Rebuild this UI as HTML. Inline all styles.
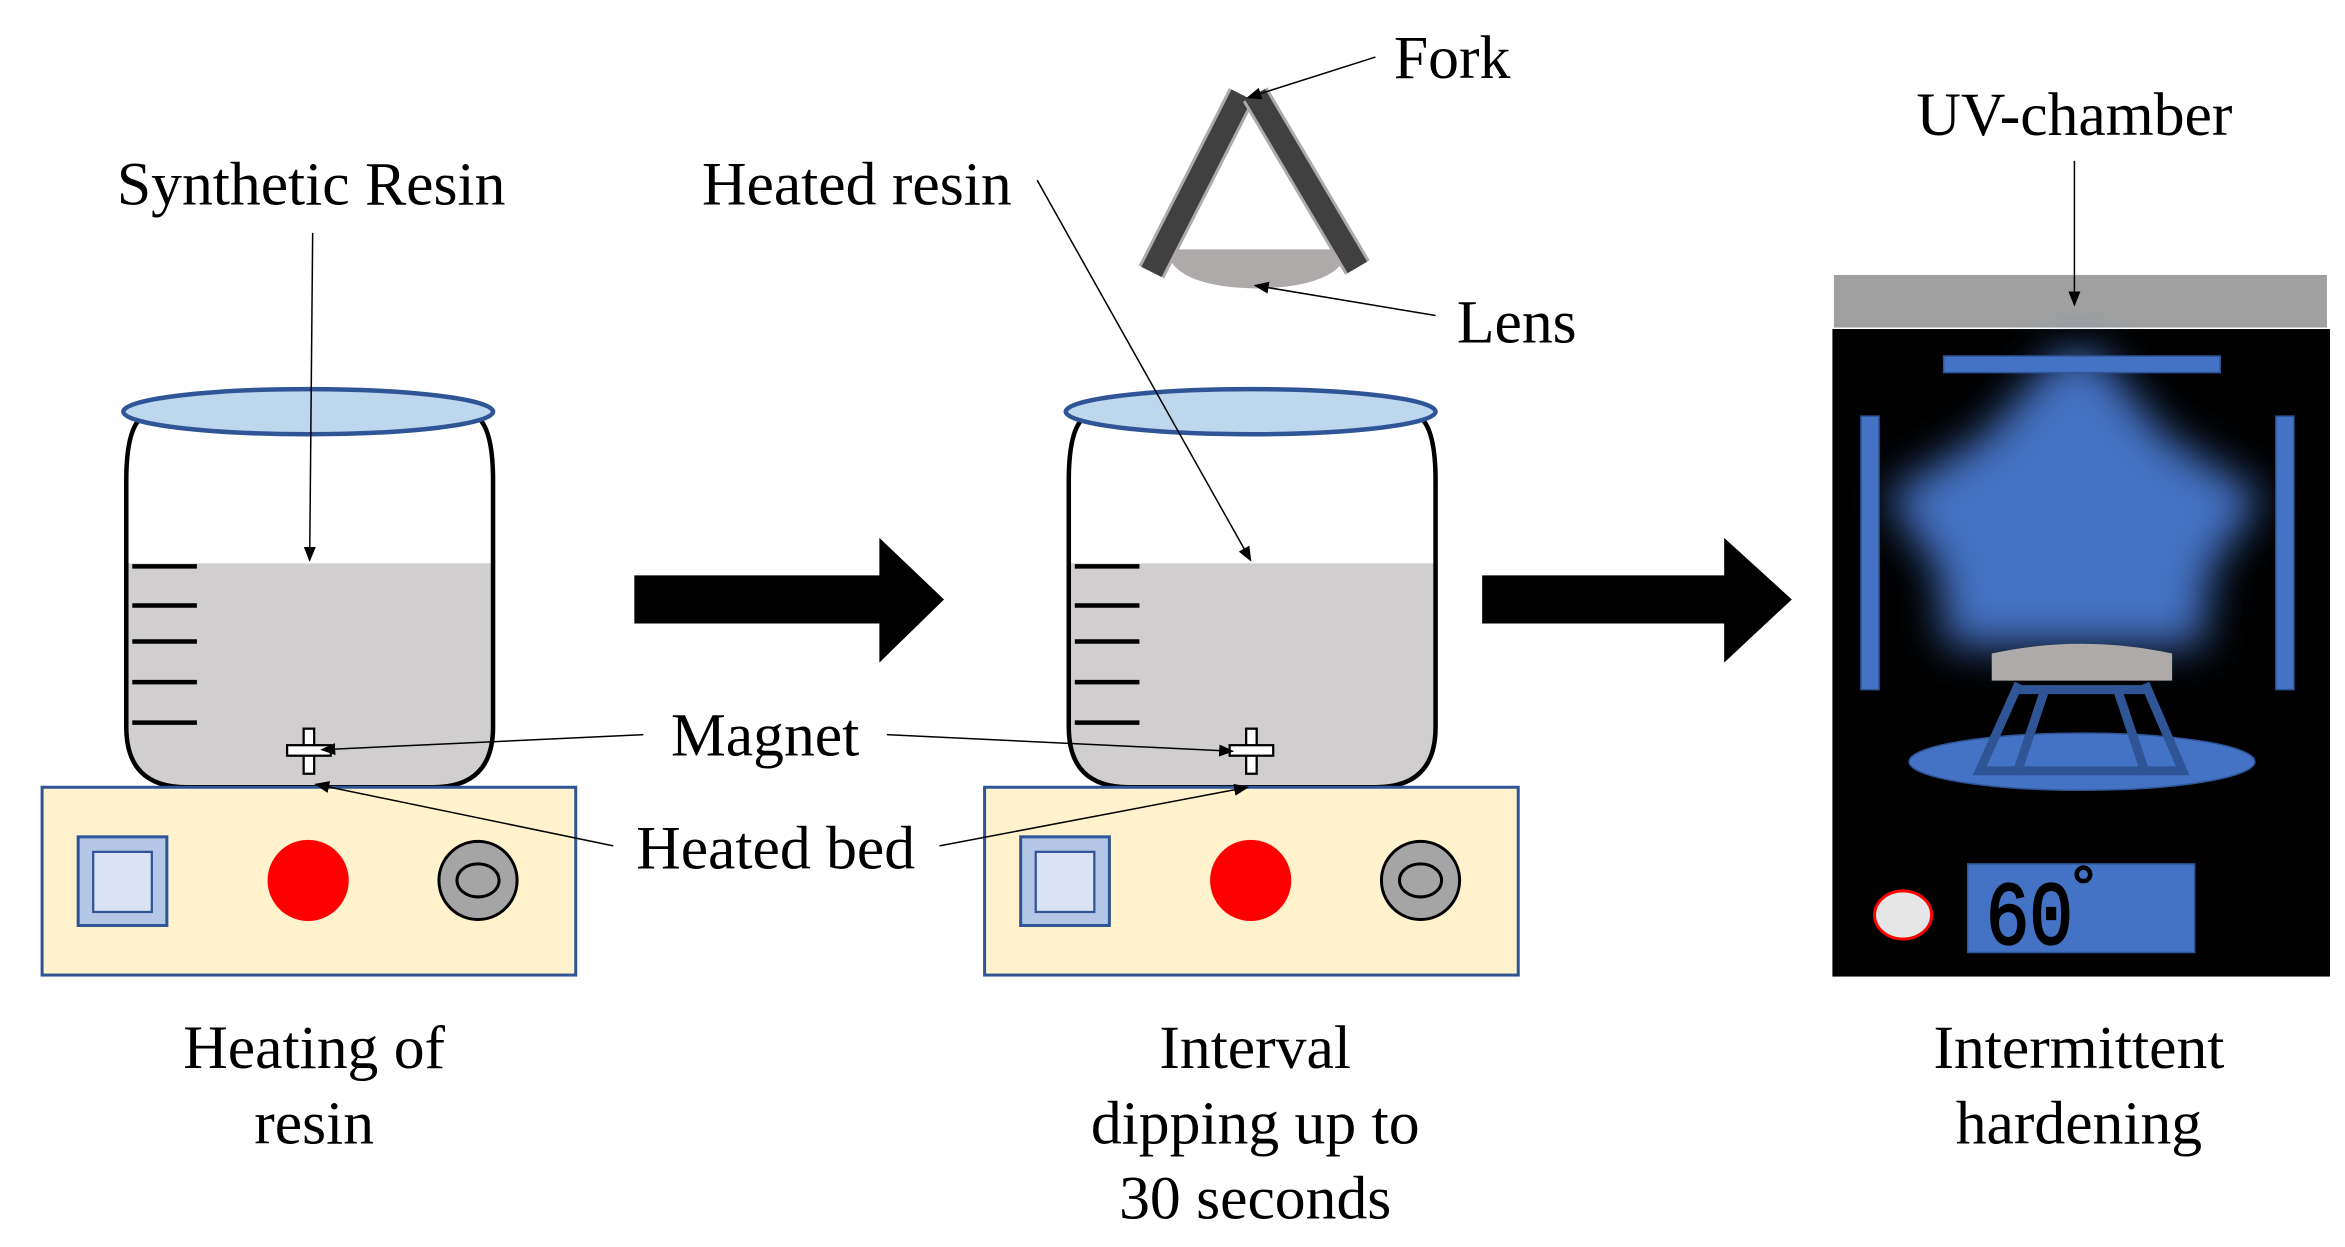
<!DOCTYPE html>
<html><head><meta charset="utf-8"><style>html,body{margin:0;padding:0;background:#fff}svg{display:block}</style></head>
<body>
<svg width="2345" height="1247" viewBox="0 0 1560 830" preserveAspectRatio="none" xmlns="http://www.w3.org/2000/svg">
<defs>
<marker id="a" markerWidth="10" markerHeight="8" refX="9" refY="4" orient="auto" markerUnits="userSpaceOnUse"><path d="M0,0 L10,4 L0,8z" fill="#000"/></marker>
<filter id="blur" x="-50%" y="-50%" width="200%" height="200%"><feGaussianBlur stdDeviation="14"/></filter>
<g id="beaker">
<path d="M84,375 L328,375 L328,484 Q328,524 288,524 L124,524 Q84,524 84,484 Z" fill="#d0cece"/>
<path d="M92,280 Q84,290 84,320 L84,484 Q84,524 124,524 L288,524 Q328,524 328,484 L328,320 Q328,290 320,280" fill="none" stroke="#000" stroke-width="3"/>
<ellipse cx="205" cy="274" rx="123" ry="15" fill="#bdd7ee" stroke="#2f5597" stroke-width="3"/>
<g stroke="#000" stroke-width="3"><line x1="88" y1="377" x2="131" y2="377"/><line x1="88" y1="403" x2="131" y2="403"/><line x1="88" y1="427" x2="131" y2="427"/><line x1="88" y1="454" x2="131" y2="454"/><line x1="88" y1="481" x2="131" y2="481"/></g>
<rect x="202" y="485" width="7" height="30" fill="#fff" stroke="#000" stroke-width="1.5"/>
<rect x="191" y="496" width="29" height="7" fill="#fff" stroke="#000" stroke-width="1.5"/>
<rect x="28" y="524" width="355" height="125" fill="#fff2cc" stroke="#2f5597" stroke-width="2"/>
<rect x="52" y="557" width="59" height="59" fill="#b4c7e7" stroke="#2f5597" stroke-width="2"/>
<rect x="62" y="567" width="39" height="40" fill="#dae3f3" stroke="#2f5597" stroke-width="1.5"/>
<circle cx="205" cy="586" r="27" fill="#ff0000"/>
<circle cx="318" cy="586" r="26" fill="#a5a5a5" stroke="#000" stroke-width="2"/>
<ellipse cx="318" cy="586" rx="14" ry="11" fill="#a5a5a5" stroke="#000" stroke-width="2"/>
</g>
</defs>
<use href="#beaker"/>
<use href="#beaker" x="627"/>
<path d="M422,383 L585,383 L585,358 L628,399 L585,441 L585,415 L422,415Z" fill="#000"/>
<path d="M986,383 L1147,383 L1147,358 L1192,399 L1147,441 L1147,415 L986,415Z" fill="#000"/>
<path d="M776,166 L897,166 Q892,191 836,192 Q780,191 776,166Z" fill="#aeaaaa"/>
<line x1="826" y1="63" x2="766" y2="181" stroke="#aeaaaa" stroke-width="19"/>
<line x1="826" y1="63" x2="766" y2="181" stroke="#404040" stroke-width="15"/>
<line x1="835" y1="63" x2="903" y2="178" stroke="#aeaaaa" stroke-width="19"/>
<line x1="835" y1="63" x2="903" y2="178" stroke="#404040" stroke-width="15"/>
<rect x="1220" y="183" width="328" height="35" fill="#a0a0a0"/>
<rect x="1219" y="219" width="331" height="431" fill="#000"/>
<g filter="url(#blur)" fill="#4472c4">
<path d="M1370,235 L1395,235 L1440,290 L1505,330 L1470,380 L1465,430 L1295,430 L1290,380 L1255,330 L1320,290Z"/>
</g>
<rect x="1293" y="237" width="184" height="11" fill="#4472c4" stroke="#2f5597"/>
<rect x="1238" y="277" width="12" height="182" fill="#4472c4" stroke="#2f5597"/>
<rect x="1514" y="277" width="12" height="182" fill="#4472c4" stroke="#2f5597"/>
<ellipse cx="1385" cy="507" rx="115" ry="19" fill="#4472c4" stroke="#2f5597"/>
<g stroke="#2f5597" stroke-width="6" fill="none">
<path d="M1343,455 L1317,513 L1452,513 L1427,455"/>
<line x1="1340" y1="459" x2="1430" y2="459"/>
<line x1="1361" y1="457" x2="1343" y2="511"/>
<line x1="1408" y1="457" x2="1426" y2="511"/>
</g>
<path d="M1325,435 Q1385,422 1445,435 L1445,453 L1325,453Z" fill="#aeaaaa"/>
<ellipse cx="1266" cy="609" rx="19" ry="16" fill="#e7e6e6" stroke="#ff0000" stroke-width="2"/>
<rect x="1309" y="575" width="151" height="59" fill="#4472c4" stroke="#2f5597"/>
<text x="1321" y="628" font-family="Liberation Mono, monospace" font-size="60" fill="#000" stroke="#000" stroke-width="1.5" textLength="58" lengthAdjust="spacingAndGlyphs">60</text>
<circle cx="1386" cy="582" r="4.5" fill="none" stroke="#000" stroke-width="3"/>
<g stroke="#000" stroke-width="1" marker-end="url(#a)">
<line x1="208" y1="155" x2="206" y2="373"/>
<line x1="690" y1="120" x2="832" y2="373"/>
<line x1="915" y1="38" x2="830" y2="65"/>
<line x1="955" y1="210" x2="835" y2="190"/>
<line x1="1380" y1="107" x2="1380" y2="203"/>
<line x1="428" y1="489" x2="214" y2="499"/>
<line x1="590" y1="489" x2="820" y2="500"/>
<line x1="408" y1="563" x2="210" y2="522"/>
<line x1="625" y1="563" x2="830" y2="524"/>
</g>
<g font-family="Liberation Serif, serif" font-size="41" fill="#000" text-anchor="middle">
<text x="207" y="136">Synthetic Resin</text>
<text x="570" y="136">Heated resin</text>
<text x="966" y="52">Fork</text>
<text x="1009" y="228">Lens</text>
<text x="1380" y="90">UV-chamber</text>
<text x="509" y="503">Magnet</text>
<text x="516" y="578">Heated bed</text>
<text x="209" y="711">Heating of</text>
<text x="209" y="761">resin</text>
<text x="835" y="711">Interval</text>
<text x="835" y="761">dipping up to</text>
<text x="835" y="811">30 seconds</text>
<text x="1383" y="711">Intermittent</text>
<text x="1383" y="761">hardening</text>
</g>
</svg>
</body></html>
